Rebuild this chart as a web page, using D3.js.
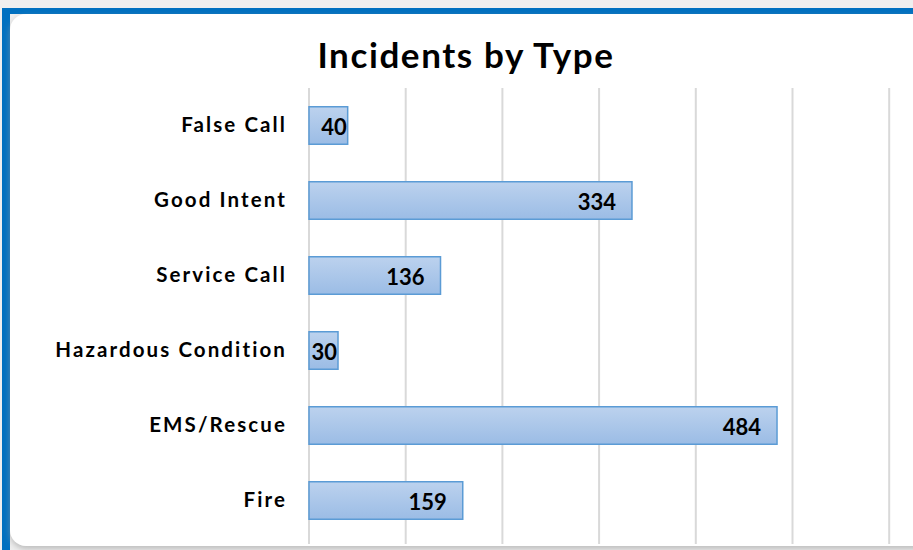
<!DOCTYPE html>
<html>
<head>
<meta charset="utf-8">
<script src="https://cdn.jsdelivr.net/npm/d3@7"></script>
<style>
  body { margin: 0; background: #efefef; }
  svg { display: block; }
</style>
</head>
<body>
<div id="chart"></div>
<script>
var categories = ["False Call", "Good Intent", "Service Call", "Hazardous Condition", "EMS/Rescue", "Fire"];
var counts = [40, 334, 136, 30, 484, 159];
var xTicks = [0, 100, 200, 300, 400, 500, 600];

var W = 913, H = 550;
var margin = { top: 88, right: 24, bottom: 5, left: 309 };

var svg = d3.select("#chart").append("svg")
	.attr("width", W)
	.attr("height", H);

var defs = svg.append("defs");
var grad = defs.append("linearGradient")
	.attr("id", "barGrad")
	.attr("x1", 0).attr("y1", 0).attr("x2", 0).attr("y2", 1);
grad.append("stop").attr("offset", "0%").attr("stop-color", "#bcd2ee");
grad.append("stop").attr("offset", "100%").attr("stop-color", "#9bbce5");

var shadow = defs.append("filter").attr("id", "shadow")
	.attr("x", "-5%").attr("y", "-5%").attr("width", "110%").attr("height", "110%");
shadow.append("feDropShadow")
	.attr("dx", 0).attr("dy", 3).attr("stdDeviation", 3)
	.attr("flood-color", "#999").attr("flood-opacity", 0.6);

// frame: blue border + white card
svg.append("rect").attr("x", 2).attr("y", 8).attr("width", W).attr("height", 6).attr("fill", "#0070c0");
svg.append("rect").attr("x", 2).attr("y", 8).attr("width", 8).attr("height", H).attr("fill", "#0070c0");
svg.append("rect")
	.attr("x", 10).attr("y", 14)
	.attr("width", W + 20).attr("height", 532)
	.attr("rx", 16)
	.attr("fill", "#fff")
	.attr("filter", "url(#shadow)");

var width = 600 * 0.967;
var x = d3.scaleLinear().domain([0, 600]).range([margin.left, margin.left + width]);
var y = d3.scaleBand()
	.domain(categories)
	.range([margin.top, margin.top + 450])
	.paddingInner(0.5)
	.paddingOuter(0.25);

// gridlines
svg.append("g").selectAll("line")
	.data(xTicks)
	.enter().append("line")
	.attr("x1", function(d) { return x(d); })
	.attr("x2", function(d) { return x(d); })
	.attr("y1", margin.top)
	.attr("y2", 544)
	.attr("stroke", "#d9d9d9")
	.attr("stroke-width", 2);

// bars
svg.append("g").selectAll("rect")
	.data(counts)
	.enter().append("rect")
	.attr("x", x(0))
	.attr("y", function(d, i) { return y(categories[i]); })
	.attr("width", function(d) { return x(d) - x(0); })
	.attr("height", y.bandwidth())
	.attr("fill", "url(#barGrad)")
	.attr("stroke", "#5b9bd5")
	.attr("stroke-width", 1.5);

// value labels
svg.append("g").selectAll("text")
	.data(counts)
	.enter().append("text")
	.attr("x", function(d) {
		var w = x(d) - x(0);
		return w < 60 ? x(d) - 1 : x(d) - 16;
	})
	.attr("y", function(d, i) { return y(categories[i]) + y.bandwidth() / 2; })
	.attr("dy", "0.42em")
	.attr("text-anchor", "end")
	.attr("font-family", "Lato, 'Open Sans', sans-serif")
	.attr("font-weight", "bold")
	.style("font-size", "22px")
	.attr("fill", "#000")
	.text(function(d) { return d; });

// category labels
svg.append("g").selectAll("text")
	.data(categories)
	.enter().append("text")
	.attr("x", 287)
	.attr("y", function(d) { return y(d) + y.bandwidth() / 2; })
	.attr("dy", "0.3em")
	.attr("text-anchor", "end")
	.attr("font-family", "Lato, 'Open Sans', sans-serif")
	.attr("font-weight", "bold")
	.style("font-size", "20.5px")
	.style("letter-spacing", "2.1px")
	.attr("fill", "#000")
	.text(function(d) { return d; });

// title
svg.append("text")
	.attr("x", 466)
	.attr("y", 68)
	.attr("text-anchor", "middle")
	.attr("font-family", "Lato, 'Open Sans', sans-serif")
	.attr("font-weight", "bold")
	.style("font-size", "35px")
	.style("letter-spacing", "1.6px")
	.attr("fill", "#000")
	.text("Incidents  by Type");
</script>
</body>
</html>
